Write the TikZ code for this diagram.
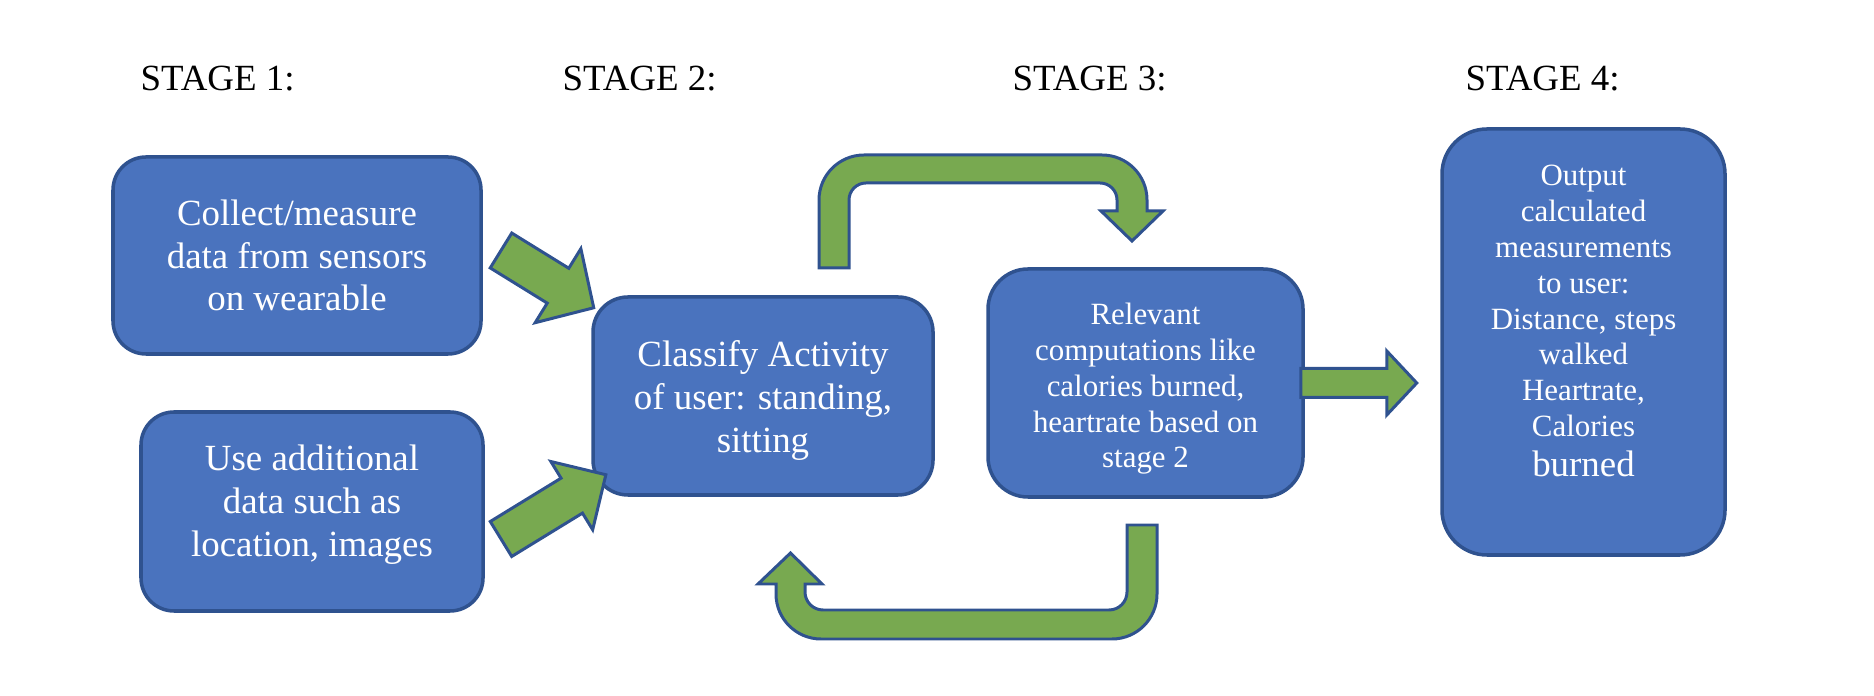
\documentclass[tikz,border=0pt]{standalone}
\usepackage{fontspec}
\setmainfont{Liberation Serif}
\definecolor{boxblue}{HTML}{4A73BE}
\definecolor{edgeblue}{HTML}{2F528F}
\definecolor{arrgreen}{HTML}{78A950}
\begin{document}
\begin{tikzpicture}[
    stage/.style={anchor=base west,inner sep=0pt,font=\fontsize{10.5}{12}\selectfont},
    stagebox/.style={draw=edgeblue,line width=1pt,fill=boxblue,text=white,align=center,
        font=\rmfamily\fontsize{10.5}{12.2}\selectfont},
    smallbox/.style={stagebox,font=\rmfamily\fontsize{8.8}{10.2}\selectfont},
    fatarrow/.style={draw=edgeblue,line width=0.85pt,fill=arrgreen,line join=miter}]
    \useasboundingbox (0,0) rectangle (18.74,6.96);
    % stage titles
    \node[stage] (s1) at (1.40,6.05) {STAGE 1:};
    \node[stage] (s2) at (5.62,6.05) {STAGE 2:};
    \node[stage] (s3) at (10.12,6.05) {STAGE 3:};
    \node[stage] (s4) at (14.65,6.05) {STAGE 4:};
    % boxes
    \node[stagebox,minimum width=3.68cm,minimum height=1.97cm,rounded corners=0.33cm] (collect) at (2.97,4.405)
        {Collect/measure\\data from sensors\\on wearable};
    \node[stagebox,minimum width=3.42cm,minimum height=1.99cm,rounded corners=0.33cm,text depth=0.22cm] (extra) at (3.12,1.845)
        {Use additional\\data such as\\location, images};
    \node[stagebox,minimum width=3.40cm,minimum height=1.98cm,rounded corners=0.35cm,text height=34.4pt] (classify) at (7.63,3.00)
        {Classify Activity\\of user: standing,\\sitting};
    \node[smallbox,minimum width=3.15cm,minimum height=2.28cm,rounded corners=0.40cm,text height=50.2pt] (relevant) at (11.455,3.13)
        {Relevant\\computations like\\calories burned,\\heartrate based on\\stage 2};
    \node[smallbox,minimum width=2.83cm,minimum height=4.26cm,rounded corners=0.45cm,text depth=0.42cm] (output) at (15.835,3.54)
        {Output\\calculated\\measurements\\to user:\\Distance, steps\\walked\\Heartrate,\\Calories\\[1.2pt]{\fontsize{10.5}{12}\selectfont burned}};
    % arrows into stage 2
    \begin{scope}[shift={(5.01,4.455)},rotate=-31.7]
        \draw[fatarrow] (0,-0.205) -- (0.67,-0.205) -- (0.67,-0.435) -- (1.09,0) -- (0.67,0.435) -- (0.67,0.205) -- (0,0.205) -- cycle;
    \end{scope}
    \begin{scope}[shift={(5.01,1.57)},rotate=31.5]
        \draw[fatarrow] (0,-0.205) -- (0.83,-0.205) -- (0.83,-0.40) -- (1.23,0) -- (0.83,0.40) -- (0.83,0.205) -- (0,0.205) -- cycle;
    \end{scope}
    % loop between stage 2 and 3
    \draw[fatarrow] (8.19,4.28) -- (8.19,4.96) arc[start angle=180,end angle=90,radius=0.45]
        -- (11.02,5.41) arc[start angle=90,end angle=0,radius=0.45]
        -- (11.47,4.85) -- (11.63,4.85) -- (11.32,4.55) -- (11.01,4.85) -- (11.17,4.85)
        -- (11.17,4.96) arc[start angle=0,end angle=90,radius=0.17]
        -- (8.66,5.13) arc[start angle=90,end angle=180,radius=0.17] -- (8.49,4.28) -- cycle;
    \draw[fatarrow] (11.57,1.71) -- (11.57,1.02) arc[start angle=0,end angle=-90,radius=0.45]
        -- (8.21,0.57) arc[start angle=270,end angle=180,radius=0.45]
        -- (7.76,1.12) -- (7.58,1.12) -- (7.905,1.43) -- (8.22,1.12) -- (8.05,1.12)
        -- (8.05,1.04) arc[start angle=180,end angle=270,radius=0.18]
        -- (11.09,0.86) arc[start angle=270,end angle=360,radius=0.18] -- (11.27,1.71) -- cycle;
    % to stage 4
    \begin{scope}[shift={([xshift=-0.4mm]relevant.east)}]
        \draw[fatarrow] (0,-0.145) -- (0.86,-0.145) -- (0.86,-0.32) -- (1.16,0) -- (0.86,0.32) -- (0.86,0.145) -- (0,0.145) -- cycle;
    \end{scope}
\end{tikzpicture}
\end{document}
